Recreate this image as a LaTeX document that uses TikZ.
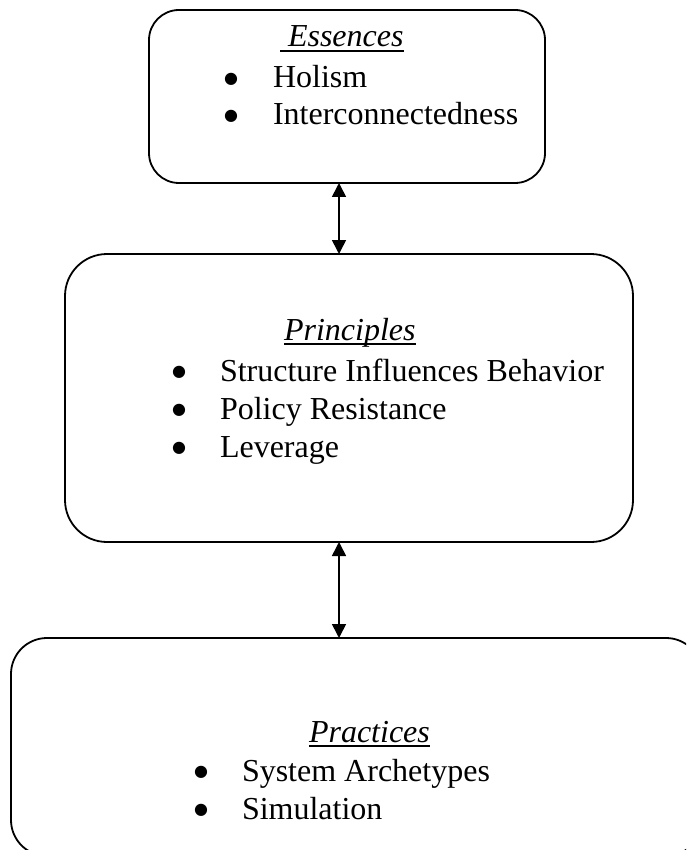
\documentclass[tikz,border=0pt]{standalone}
\usepackage{fontspec}
\setmainfont{Liberation Serif}
\newfontfamily\bulfont{DejaVu Sans}
\usetikzlibrary{arrows.meta}
\newcommand\myul[1]{\setbox0\hbox{#1}\rlap{\rule[-5pt]{\wd0}{1.8pt}}\box0}
\tikzset{
  x=1pt,y=-1pt,
  roundbox/.style={draw=black,line width=1.8pt,rounded corners=#1,inner sep=0pt,outer sep=0pt},
  txt/.style={anchor=base west,inner sep=0pt,outer sep=0pt,font=\fontsize{32}{37}\selectfont},
  bul/.style={anchor=center,inner sep=0pt,outer sep=0pt,font=\bulfont\fontsize{16}{16}\selectfont},
  biarrow/.style={line width=1.6pt,{Triangle[length=14pt,width=14pt]}-{Triangle[length=14pt,width=14pt]}}
}
\begin{document}
\begin{tikzpicture}
\useasboundingbox (0,0) rectangle (686,850);
\clip (0,0) rectangle (686,850);
% boxes
\node[roundbox=30pt,minimum width=396pt,minimum height=173pt] (b1) at (347,96.5) {};
\node[roundbox=42pt,minimum width=568pt,minimum height=288pt] (b2) at (349,398) {};
\node[roundbox=36pt,minimum width=691pt,minimum height=218pt] (b3) at (356.5,747) {};
% box 1 text
\node[txt] (t1) at (280,47) {\myul{\textit{\ Essences}}};
\node[bul] (u11) at (231,79) {●};
\node[txt] (t11) at (273,88) {Holism};
\node[bul] (u12) at (231,116) {●};
\node[txt] (t12) at (273,125) {Interconnectedness};
% box 2 text
\node[txt] (t2) at (284,340) {\myul{\textit{Principles}}};
\node[bul] (u21) at (179,372) {●};
\node[txt] (t21) at (220,381) {Structure Influences Behavior};
\node[bul] (u22) at (179,410) {●};
\node[txt] (t22) at (220,419) {Policy Resistance};
\node[bul] (u23) at (179,448) {●};
\node[txt] (t23) at (220,457) {Leverage};
% box 3 text
\node[txt] (t3) at (309,742) {\myul{\textit{Practices}}};
\node[bul] (u31) at (201,772) {●};
\node[txt] (t31) at (242,781) {System Archetypes};
\node[bul] (u32) at (201,810) {●};
\node[txt] (t32) at (242,819) {Simulation};
% connectors
\coordinate (ax) at (339,0);
\draw[biarrow] (b1.south -| ax) -- (b2.north -| ax);
\draw[biarrow] (b2.south -| ax) -- (b3.north -| ax);
\end{tikzpicture}
\end{document}
